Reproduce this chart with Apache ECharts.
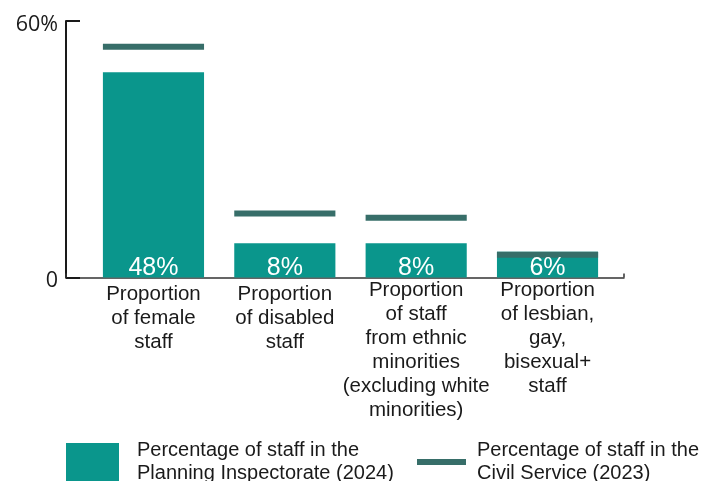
<!DOCTYPE html>
<html>
<head>
<meta charset="utf-8">
<script src="https://cdn.jsdelivr.net/npm/echarts@6/dist/echarts.min.js"></script>
<style>
  html, body { margin: 0; padding: 0; background: #ffffff; }
  #chart { width: 716px; height: 481px; }
</style>
</head>
<body>
<div id="chart"></div>
<script>
// Workforce diversity: Planning Inspectorate vs. Civil Service
const categories = [
  'Proportion\nof female\nstaff',
  'Proportion\nof disabled\nstaff',
  'Proportion\nof staff\nfrom ethnic\nminorities\n(excluding white\nminorities)',
  'Proportion\nof lesbian,\ngay,\nbisexual+\nstaff'
];
const inspectorate2024 = [48, 8, 8, 6];
const civilService2023 = [54, 15, 14, 5.3];
const yTicks = [0, 60];

const seriesNames = [
  'Percentage of staff in the\nPlanning Inspectorate (2024)',
  'Percentage of staff in the\nCivil Service (2023)'
];

const BAR_COLOR = '#0a968c';
const MARK_COLOR = '#376e69';
const TEXT = '#1a1a1a';
const FONT = '"Liberation Sans", Arial, Helvetica, sans-serif';
const BAR_FRAC = 0.77;

// short (three-line) category labels sit a little lower than the long ones
const categoryData = categories.map(c => {
  const lines = c.split('\n').length;
  return lines <= 3 ? { value: c, textStyle: { padding: [4, 0, 0, 0] } } : { value: c };
});

const chart = echarts.init(document.getElementById('chart'), null, { renderer: 'canvas' });

const option = {
  animation: false,
  backgroundColor: '#ffffff',
  grid: [
    // frame axes
    { left: 66, right: 92, top: 21, bottom: 203.5 },
    // data area
    { left: 87.8, right: 102.8, top: 21, bottom: 203.5 }
  ],
  xAxis: [
    {
      gridIndex: 0, type: 'value', min: 0, max: 1, interval: 1,
      axisLine: { show: true, lineStyle: { color: '#333333', width: 1.5 } },
      axisTick: { show: true, inside: true, length: 4, lineStyle: { color: '#333333', width: 1.5 } },
      axisLabel: { show: false },
      splitLine: { show: false }
    },
    {
      gridIndex: 1, type: 'category', data: categoryData,
      axisLine: { show: false },
      axisTick: { show: false },
      axisLabel: {
        interval: 0,
        margin: 1,
        fontFamily: FONT,
        fontSize: 20.5,
        lineHeight: 24,
        color: TEXT,
        align: 'center',
        verticalAlign: 'top'
      }
    }
  ],
  yAxis: [
    {
      gridIndex: 0, type: 'value', min: yTicks[0], max: yTicks[1], interval: yTicks[1],
      axisLine: { show: true, lineStyle: { color: '#1a1a1a', width: 2 } },
      axisTick: { show: true, inside: true, length: 14, lineStyle: { color: '#1a1a1a', width: 2 } },
      axisLabel: {
        margin: 8,
        formatter: v => '{t|' + (v === 0 ? '0' : v + '%') + '}',
        rich: {
          t: {
            fontFamily: '"Open Sans", "Noto Sans", sans-serif',
            fontSize: 21.5,
            color: TEXT,
            padding: [7, 0, 0, 0]
          }
        }
      },
      splitLine: { show: false }
    },
    {
      gridIndex: 1, type: 'value', min: yTicks[0], max: yTicks[1], show: false
    }
  ],
  legend: [
    {
      left: 66, top: 439, padding: 0,
      itemWidth: 53, itemHeight: 38,
      selectedMode: false,
      data: [{ name: seriesNames[0], icon: 'rect' }],
      textStyle: { fontFamily: FONT, fontSize: 20, lineHeight: 23, color: TEXT, padding: [0, 0, 0, 13] }
    },
    {
      left: 417, top: 439, padding: 0,
      itemWidth: 49, itemHeight: 6,
      selectedMode: false,
      data: [{ name: seriesNames[1], icon: 'rect' }],
      textStyle: { fontFamily: FONT, fontSize: 20, lineHeight: 23, color: TEXT, padding: [0, 0, 0, 6] }
    }
  ],
  series: [
    {
      name: seriesNames[0],
      type: 'bar',
      xAxisIndex: 1, yAxisIndex: 1,
      data: inspectorate2024,
      barWidth: (BAR_FRAC * 100) + '%',
      itemStyle: { color: BAR_COLOR },
      z: 2,
      label: {
        show: true,
        position: 'insideBottom',
        distance: -3,
        color: '#ffffff',
        fontFamily: FONT,
        fontSize: 25,
        formatter: p => p.value + '%'
      }
    },
    {
      name: seriesNames[1],
      type: 'custom',
      xAxisIndex: 1, yAxisIndex: 1,
      data: civilService2023.map((v, i) => [i, v]),
      itemStyle: { color: MARK_COLOR },
      z: 2,
      renderItem: (params, api) => {
        const p = api.coord([api.value(0), api.value(1)]);
        const w = api.size([1, 0])[0] * BAR_FRAC;
        const h = 6;
        return {
          type: 'rect',
          z2: 1,
          shape: { x: p[0] - w / 2, y: p[1] - h / 2, width: w, height: h },
          style: { fill: MARK_COLOR }
        };
      }
    }
  ]
};

chart.setOption(option);
</script>
</body>
</html>
